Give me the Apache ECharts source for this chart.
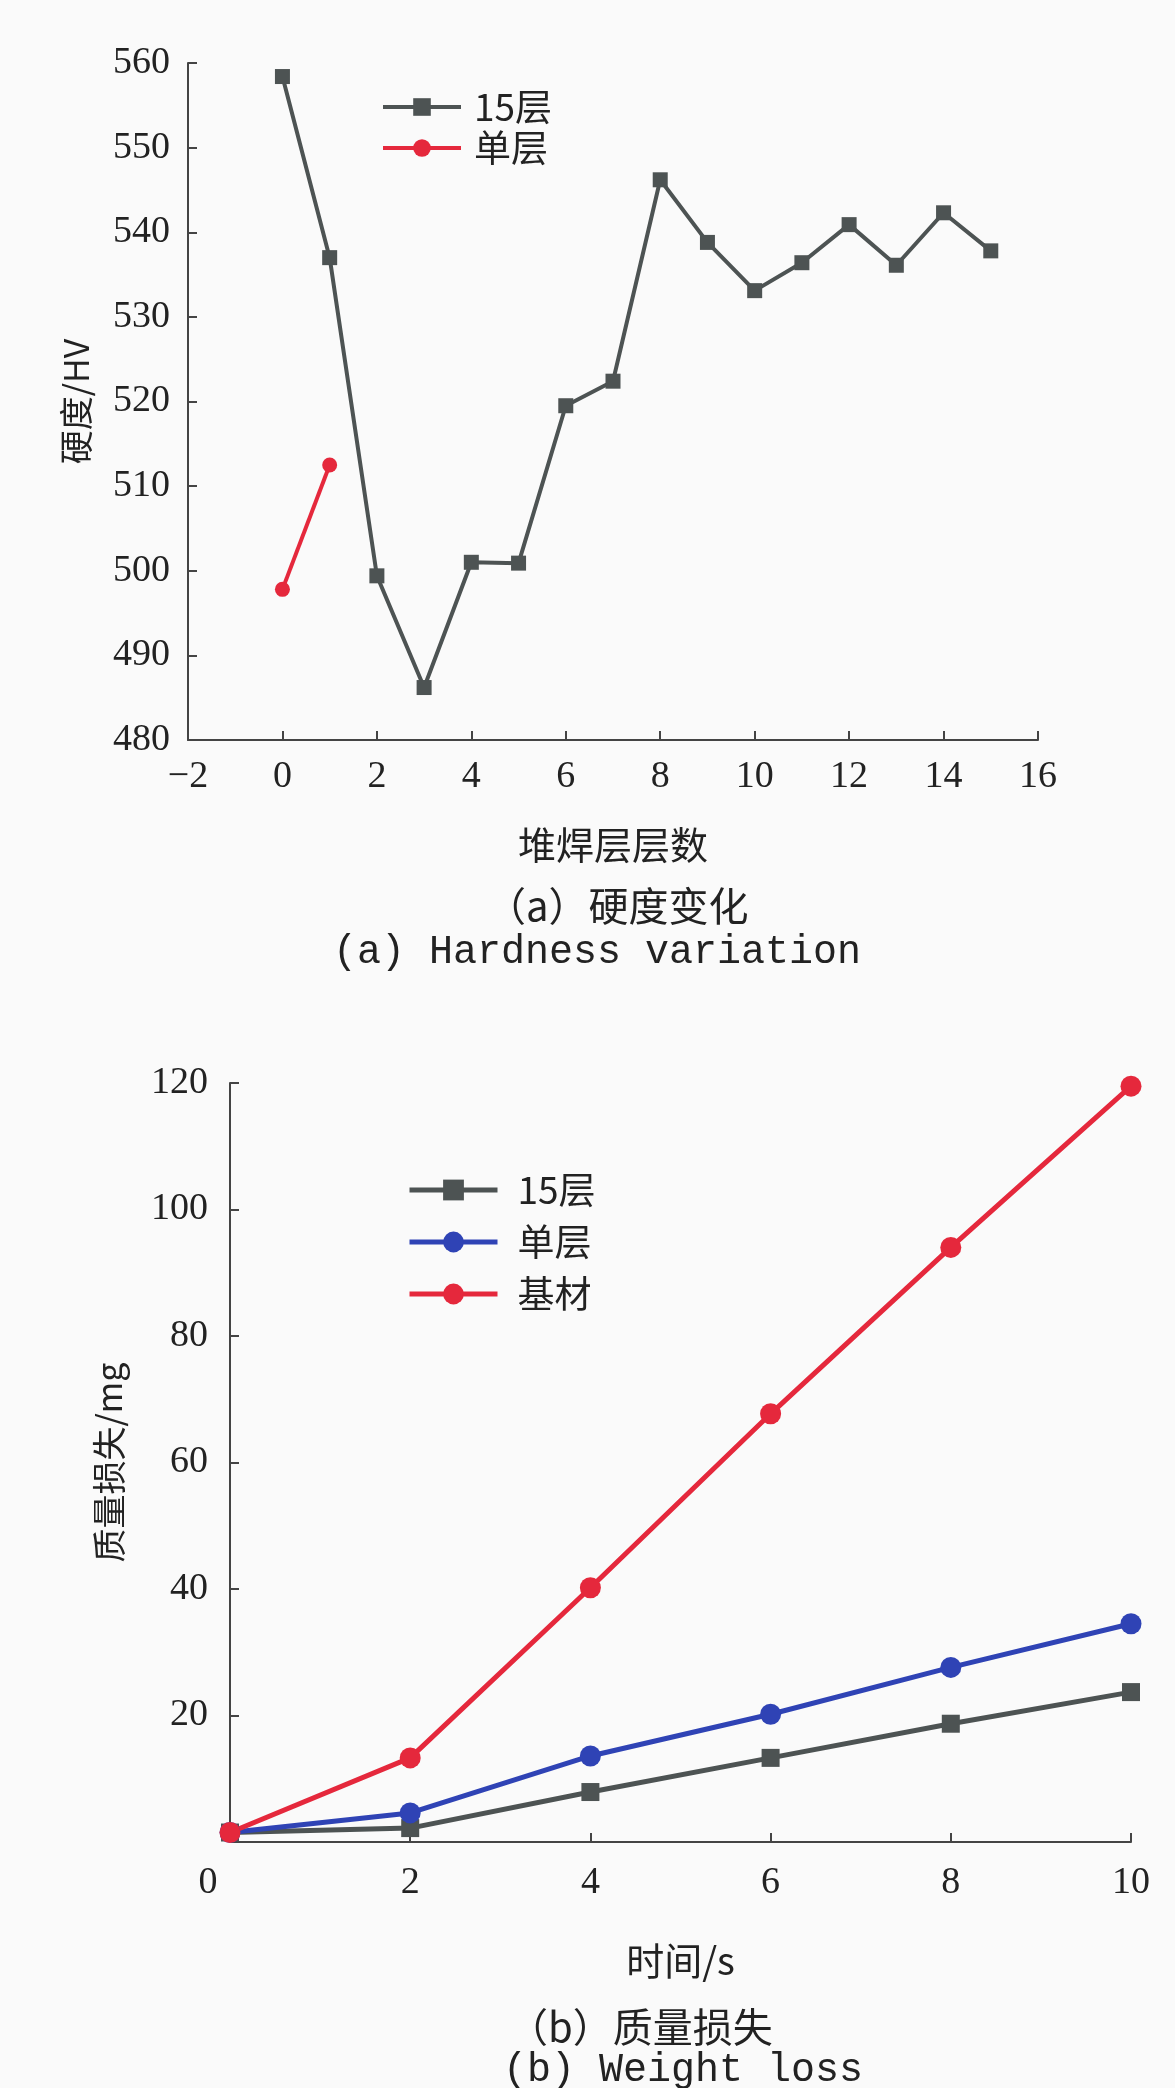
<!DOCTYPE html>
<html>
<head>
<meta charset="utf-8">
<script src="https://cdn.jsdelivr.net/npm/echarts@6/dist/echarts.min.js"></script>
<style>
  html, body { margin: 0; padding: 0; background: #fafafa; }
  #ca { width: 1175px; height: 1000px; }
  #cb { width: 1175px; height: 1088px; }
</style>
</head>
<body>
<div id="ca"></div>
<div id="cb"></div>
<script>
// ---- Chart (a): hardness variation ----
const layersA = [0, 1, 2, 3, 4, 5, 6, 7, 8, 9, 10, 11, 12, 13, 14, 15];
const hardness15 = [558.4, 537.0, 499.4, 486.2, 501.0, 500.9, 519.5, 522.4, 546.2, 538.8, 533.1, 536.4, 540.9, 536.1, 542.3, 537.8];
const layersSingle = [0, 1];
const hardnessSingle = [497.8, 512.5];

// ---- Chart (b): weight loss ----
const timeB = [0, 2, 4, 6, 8, 10];
const loss15 = [1.5, 2.2, 7.9, 13.3, 18.7, 23.7];
const lossSingle = [1.5, 4.6, 13.6, 20.2, 27.6, 34.5];
const lossBase = [1.5, 13.3, 40.2, 67.7, 94.0, 119.5];

const namesA = ['15层', '单层'];
const namesB = ['15层', '单层', '基材'];

const GREY = '#4d5353', RED = '#e5283c', BLUE = '#2f43b5';
const AX = '#444';
const NUMFONT = 'Liberation Serif';
const CJK = 'Noto Sans CJK SC';

function pairs(xs, ys) { return xs.map((x, i) => [x, ys[i]]); }
const minusFmt = v => String(v).replace('-', '\u2212');

function axisCommon() {
  return {
    axisLine: { show: true, onZero: false, lineStyle: { color: AX, width: 2 } },
    axisTick: { show: true, inside: true, length: 9, lineStyle: { color: AX, width: 2 } },
    splitLine: { show: false },
  };
}

const chartA = echarts.init(document.getElementById('ca'));
chartA.setOption({
  backgroundColor: '#fafafa',
  animation: false,
  grid: { left: 188, top: 63, width: 850, height: 677 },
  xAxis: Object.assign(axisCommon(), {
    type: 'value', min: -2, max: 16, interval: 2,
    name: '堆焊层层数', nameLocation: 'middle', nameGap: 86,
    nameTextStyle: { fontFamily: CJK, fontSize: 38, color: '#222' },
    axisLabel: { fontFamily: NUMFONT, fontSize: 38, color: '#222', margin: 18, formatter: minusFmt }
  }),
  yAxis: Object.assign(axisCommon(), {
    type: 'value', min: 480, max: 560, interval: 10,
    name: '硬度/HV', nameLocation: 'middle', nameGap: 95,
    nameTextStyle: { fontFamily: CJK, fontSize: 34, color: '#222' },
    axisLabel: { fontFamily: NUMFONT, fontSize: 38, color: '#222', margin: 18 }
  }),
  legend: {
    data: namesA, orient: 'vertical', left: 376, top: 83,
    itemWidth: 78, itemHeight: 22, itemGap: 3,
    lineStyle: { width: 4 },
    textStyle: { fontFamily: CJK, fontSize: 37, lineHeight: 38, color: '#222', padding: [0, 0, 0, 8] }
  },
  series: [
    { name: namesA[0], type: 'line', data: pairs(layersA, hardness15), symbol: 'rect', symbolSize: 15,
      lineStyle: { color: GREY, width: 4 }, itemStyle: { color: GREY } },
    { name: namesA[1], type: 'line', data: pairs(layersSingle, hardnessSingle), symbol: 'circle', symbolSize: 15,
      lineStyle: { color: RED, width: 4 }, itemStyle: { color: RED } }
  ],
  graphic: [
    { type: 'text', left: 486, top: 886, style: { text: '（a）硬度变化', font: '40px "Noto Sans CJK SC"', fill: '#222' } },
    { type: 'text', left: 333, top: 932, style: { text: '(a) Hardness variation', font: '40px "Liberation Mono"', fill: '#222' } }
  ]
});

const chartB = echarts.init(document.getElementById('cb'));
chartB.setOption({
  backgroundColor: '#fafafa',
  animation: false,
  grid: { left: 230, top: 83, width: 901, height: 759 },
  xAxis: Object.assign(axisCommon(), {
    type: 'value', min: 0, max: 10, interval: 2,
    name: '时间/s', nameLocation: 'middle', nameGap: 100,
    nameTextStyle: { fontFamily: CJK, fontSize: 38, color: '#222' },
    axisLabel: {
      fontFamily: NUMFONT, fontSize: 38, color: '#222', margin: 22,
      formatter: v => v === 0 ? '{o|0}' : String(v),
      rich: { o: { fontFamily: NUMFONT, fontSize: 38, color: '#222', padding: [0, 44, 0, 0] } }
    }
  }),
  yAxis: Object.assign(axisCommon(), {
    type: 'value', min: 0, max: 120, interval: 20,
    name: '质量损失/mg', nameLocation: 'middle', nameGap: 104,
    nameTextStyle: { fontFamily: CJK, fontSize: 34, color: '#222' },
    axisLabel: { fontFamily: NUMFONT, fontSize: 38, color: '#222', margin: 22, showMinLabel: false }
  }),
  legend: {
    data: namesB, orient: 'vertical', left: 402, top: 166,
    itemWidth: 88, itemHeight: 26, itemGap: 14,
    lineStyle: { width: 5 },
    textStyle: { fontFamily: CJK, fontSize: 37, lineHeight: 38, color: '#222', padding: [0, 0, 0, 15] }
  },
  series: [
    { name: namesB[0], type: 'line', data: pairs(timeB, loss15), symbol: 'rect', symbolSize: 18,
      lineStyle: { color: GREY, width: 5 }, itemStyle: { color: GREY } },
    { name: namesB[1], type: 'line', data: pairs(timeB, lossSingle), symbol: 'circle', symbolSize: 21,
      lineStyle: { color: BLUE, width: 5 }, itemStyle: { color: BLUE } },
    { name: namesB[2], type: 'line', data: pairs(timeB, lossBase), symbol: 'circle', symbolSize: 21,
      lineStyle: { color: RED, width: 5 }, itemStyle: { color: RED } }
  ],
  graphic: [
    { type: 'text', left: 508, top: 1007, style: { text: '（b）质量损失', font: '40px "Noto Sans CJK SC"', fill: '#222' } },
    { type: 'text', left: 503, top: 1050, style: { text: '(b) Weight loss', font: '40px "Liberation Mono"', fill: '#222' } }
  ]
});
</script>
</body>
</html>
